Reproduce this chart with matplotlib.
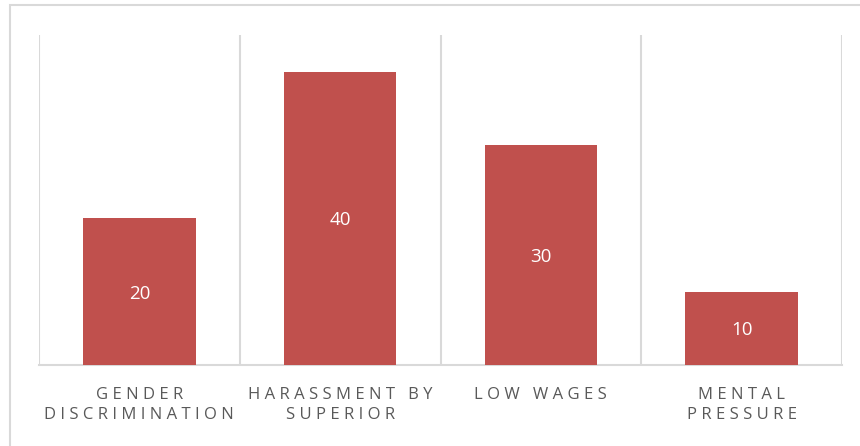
import matplotlib.pyplot as plt
from matplotlib.patches import Rectangle

# Dados do gráfico
categorias = ['GENDER\nDISCRIMINATION', 'HARASSMENT BY\nSUPERIOR', 'LOW WAGES', 'MENTAL\nPRESSURE']
valores = [20, 40, 30, 10]

cor_barra = '#C0504D'
cor_grade = '#D9D9D9'
cor_texto = '#595959'
fontes = ['Open Sans', 'DejaVu Sans']


def espacar(texto):
    # Espaçamento entre letras (espaço fino + espaço fino de cabelo)
    sep = '\u2009\u200a'
    return '\n'.join(sep.join(linha) for linha in texto.split('\n'))


fig = plt.figure(figsize=(8.6, 4.46), dpi=100)
ax = fig.add_axes([39 / 860, 81 / 446, 803 / 860, 330 / 446])

x = range(len(valores))
barras = ax.bar(x, valores, width=0.56, color=cor_barra, zorder=3)

# Rótulos de valor no meio das barras
for b, v in zip(barras, valores):
    ax.annotate(str(v), (b.get_x() + b.get_width() / 2, v / 2),
                xytext=(0, -5), textcoords='offset points',
                ha='center', va='baseline', color='white', fontsize=13.5,
                family=fontes, zorder=4)

ax.set_xlim(-0.5, len(valores) - 0.5)
ax.set_ylim(0, 45)

# Linhas de grade verticais entre categorias
ax.set_xticks([i - 0.5 for i in range(len(valores) + 1)], minor=True)
ax.grid(which='minor', axis='x', color=cor_grade, linewidth=1.5, zorder=0)
ax.tick_params(which='both', length=0)
ax.set_yticks([])
ax.set_xticks(list(x))
ax.set_xticklabels([espacar(c) for c in categorias], color=cor_texto, fontsize=12,
                   family=fontes, linespacing=1.35)
ax.tick_params(axis='x', pad=16)

for lado in ['top', 'right', 'left']:
    ax.spines[lado].set_visible(False)
ax.spines['bottom'].set_color(cor_grade)
ax.spines['bottom'].set_linewidth(1.5)

# Moldura do gráfico
fig.patches.append(Rectangle((10 / 860, -0.1), 1.0, (446 - 5) / 446 + 0.1,
                             transform=fig.transFigure, fill=False,
                             edgecolor=cor_grade, linewidth=1.5))

fig.savefig('out.png', dpi=100)
